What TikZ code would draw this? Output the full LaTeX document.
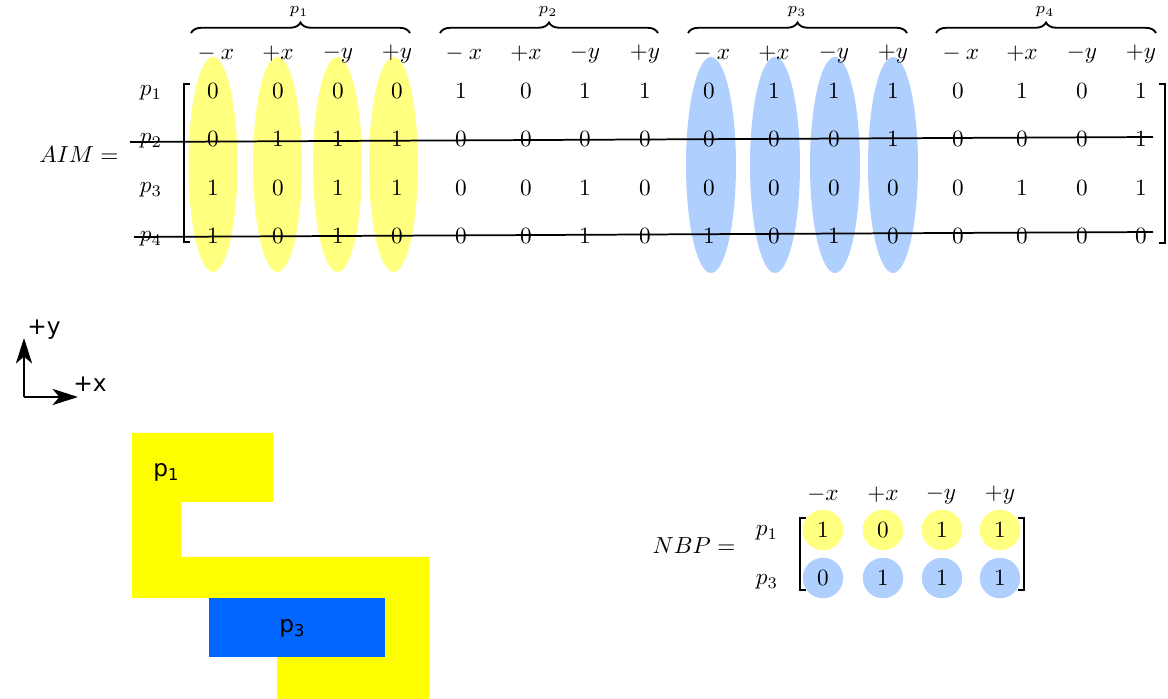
\documentclass[tikz,border=0pt]{standalone}
\usepackage{fontspec}
\newfontfamily\dejavu{DejaVu Sans}
\usetikzlibrary{decorations.pathreplacing,arrows.meta}
\definecolor{hlyellow}{HTML}{FFFF80}
\definecolor{hlblue}{HTML}{AFCFFF}
\definecolor{shapeyellow}{HTML}{FFFF00}
\definecolor{shapeblue}{HTML}{0066FF}
\begin{document}
\begin{tikzpicture}[x=0.43pt,y=-0.43pt,
  every node/.style={inner sep=0pt},
  digit/.style={},
  strike/.style={line width=0.75pt},
  bracketline/.style={line width=0.6pt},
  bracestyle/.style={decorate,decoration={brace,amplitude=4.5pt},line width=0.8pt},
  axisarrow/.style={line width=0.6pt,-{Stealth[length=11pt,width=7pt,inset=3pt]}},
  sanslabel/.style={font=\dejavu},
  nbpcircle/.style={circle,minimum size=17.4pt}]
\useasboundingbox (0,0) rectangle (1168,699);
% highlight ellipses
\foreach \cx in {213,277.5,337.5,393.5}
  \fill[hlyellow] (\cx,164.5) ellipse [x radius=24.5, y radius=107.5];
\foreach \cx in {711,775,835,893}
  \fill[hlblue] (\cx,165) ellipse [x radius=25, y radius=108];
% AIM label
\node (aim) at (79,155) {$AIM=$};
% column positions
\def\cols{{213,278,338,397,461,526,585,645,709,774,834,893,958,1022,1082,1141}}
% headers
\foreach \g in {0,1,2,3}{
  \pgfmathsetmacro\xa{\cols[4*\g]+3}
  \pgfmathsetmacro\xb{\cols[4*\g+1]}
  \pgfmathsetmacro\xc{\cols[4*\g+2]}
  \pgfmathsetmacro\xd{\cols[4*\g+3]}
  \node (h\g-1) at (\xa,54) {$-\:x$};
  \node (h\g-2) at (\xb,54) {$+x$};
  \node (h\g-3) at (\xc,54) {$-y$};
  \node (h\g-4) at (\xd,54) {$+y$};
}
% braces
\foreach \a/\b/\m/\i in {191/410/299/1,440/658/548/2,688/907/797/3,936/1156/1045/4}{
  \coordinate (bra\i) at (\a,33);
  \coordinate (brb\i) at (\b,33);
  \draw[bracestyle] (bra\i) -- (brb\i);
  \node[font=\scriptsize] (bl\i) at (\m,12) {$p_\i$};
}
% row labels
\node (r1) at (151,93) {$p_1$};
\node (r2) at (151,141) {$p_2$};
\node (r3) at (151,190) {$p_3$};
\node (r4) at (151,239) {$p_4$};
% matrix entries
\foreach \v [count=\c] in {0,0,0,0,1,0,1,1,0,1,1,1,0,1,0,1}{
  \pgfmathsetmacro\cx{\cols[\c-1]}
  \node[digit] (a1-\c) at (\cx,91) {$\v$};}
\foreach \v [count=\c] in {0,1,1,1,0,0,0,0,0,0,0,1,0,0,0,1}{
  \pgfmathsetmacro\cx{\cols[\c-1]}
  \node[digit] (a2-\c) at (\cx,139) {$\v$};}
\foreach \v [count=\c] in {1,0,1,1,0,0,1,0,0,0,0,0,0,1,0,1}{
  \pgfmathsetmacro\cx{\cols[\c-1]}
  \node[digit] (a3-\c) at (\cx,188) {$\v$};}
\foreach \v [count=\c] in {1,0,1,0,0,0,1,0,1,0,1,0,0,0,0,0}{
  \pgfmathsetmacro\cx{\cols[\c-1]}
  \node[digit] (a4-\c) at (\cx,236) {$\v$};}
% brackets
\draw[bracketline] (190,84) -- (184,84) -- (184,242) -- (190,242);
\draw[bracketline] (1159,84) -- (1165,84) -- (1165,243) -- (1159,243);
% strike lines
\coordinate (s1a) at (130,142);
\coordinate (s1b) at (1153,137);
\coordinate (s2a) at (134,237);
\coordinate (s2b) at (1153,232);
\draw[strike] (s1a) -- (s1b);
\draw[strike] (s2a) -- (s2b);
% axes
\coordinate (o) at (24,397);
\coordinate (ay) at (24,338);
\coordinate (ax) at (78,397);
\draw[axisarrow] (o) -- (ay);
\draw[axisarrow] (o) -- (ax);
\node[sanslabel] (ly) at (44,330) {+y};
\node[sanslabel] (lx) at (90,384) {+x};
% shapes
\fill[shapeyellow] (132,433) -- (273,433) -- (273,502) -- (181,502) -- (181,557)
  -- (429,557) -- (429,699) -- (277,699) -- (277,657) -- (385,657) -- (385,598)
  -- (132,598) -- cycle;
\fill[shapeblue] (209,598) rectangle (385,657);
\node[sanslabel] (sp1) at (166,472) {p\raisebox{-0.35ex}{\scriptsize 1}};
\node[sanslabel] (sp3) at (292,628) {p\raisebox{-0.35ex}{\scriptsize 3}};
% NBP
\node (nbp) at (694,546) {$NBP=$};
\node (n-r1) at (767,533) {$p_1$};
\node (n-r3) at (767,582) {$p_3$};
\node (nh1) at (823,495) {$-x$};
\node (nh2) at (883,495) {$+x$};
\node (nh3) at (941,495) {$-y$};
\node (nh4) at (1000,495) {$+y$};
\foreach \x/\v [count=\c] in {823/1,883/0,942/1,1000/1}
  \node[nbpcircle,fill=hlyellow] (n1-\c) at (\x,530) {$\v$};
\foreach \x/\v [count=\c] in {823/0,883/1,942/1,1000/1}
  \node[nbpcircle,fill=hlblue] (n2-\c) at (\x,578) {$\v$};
\draw[bracketline] (806,518) -- (800,518) -- (800,590) -- (806,590);
\draw[bracketline] (1018,518) -- (1024,518) -- (1024,590) -- (1018,590);
\end{tikzpicture}
\end{document}
